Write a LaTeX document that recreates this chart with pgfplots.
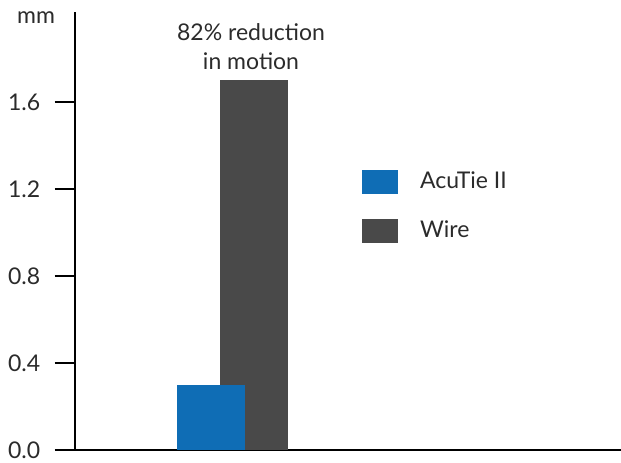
\documentclass[border=0pt]{standalone}
\usepackage{pgfplots}
\pgfplotsset{compat=1.18}
\usepackage{fontspec}
\setmainfont{Lato}
\definecolor{acublue}{HTML}{0F6DB5}
\definecolor{wiregray}{HTML}{494949}
\definecolor{txt}{HTML}{2B2B2B}
\begin{document}
\fontsize{23}{28}\selectfont
\begin{tikzpicture}
\begin{axis}[
    scale only axis,
    width=546pt, height=438pt,
    xmin=75, xmax=621,
    ymin=0, ymax=2.014,
    axis x line=bottom, axis y line=left,
    axis line style={-, line width=1.3pt, black},
    xtick=\empty,
    ytick={0,0.4,0.8,1.2,1.6},
    ytick align=outside,
    major tick length=20pt,
    ytick style={draw=black, line width=1.3pt},
    yticklabel style={/pgf/number format/fixed, /pgf/number format/fixed zerofill,
        /pgf/number format/precision=1, /pgf/number format/assume math mode=true,
        xshift=-7pt},
    ticklabel style={font=\fontsize{23}{28}\selectfont, text=txt},
    clip=false,
    legend style={draw=none, fill=none, at={(axis cs:362,1.29)}, anchor=north west,
        inner sep=0pt, row sep=25pt, font=\fontsize{23}{28}\selectfont,
        nodes={text=txt, inner xsep=22pt}},
    legend image code/.code={\fill[#1] (0pt,-12pt) rectangle (36pt,12pt);},
    legend cell align=left,
]
\addplot[ybar, bar width=68, bar shift=0pt, fill=wiregray, draw=none, forget plot] coordinates {(254,1.7)};
\addplot[ybar, bar width=68, bar shift=0pt, fill=acublue, draw=none] coordinates {(211,0.3)};
\addlegendentry{AcuTie II}
\addlegendimage{fill=wiregray, draw=none}
\addlegendentry{Wire}
% tick marks
\pgfplotsinvokeforeach{0,0.4,0.8,1.2,1.6}{
    \draw[draw=black, line width=1.3pt] (axis cs:55,#1) -- (axis cs:75,#1);
}
\node[text=txt, align=center, font=\fontsize{23}{29}\selectfont] at (axis cs:251,1.855) {82\% reduction\\in motion};
\node[text=txt] at (axis cs:36,1.99) {mm};
\coordinate (bl) at (axis cs:0,-0.0598);
\coordinate (tr) at (axis cs:621,2.069);
\end{axis}
\pgfresetboundingbox
\path (bl) rectangle (tr);
\end{tikzpicture}
\end{document}
